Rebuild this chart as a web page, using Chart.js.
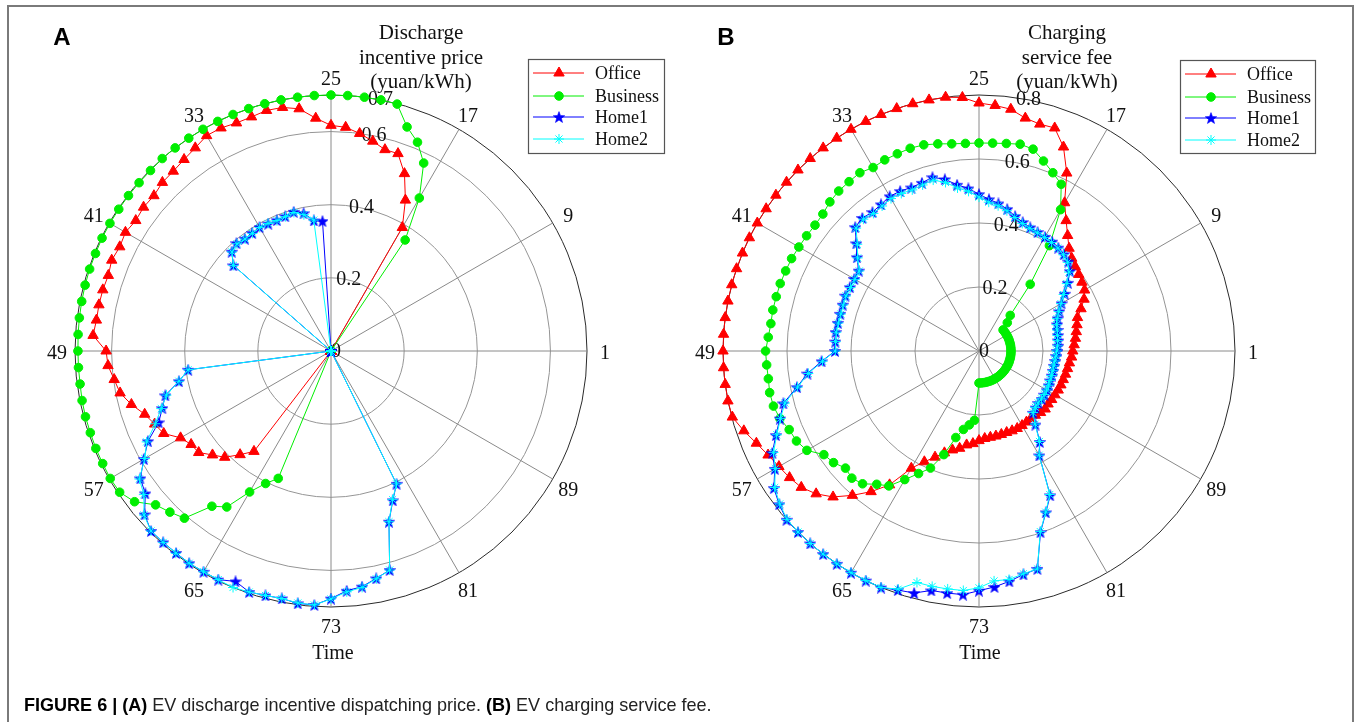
<!DOCTYPE html>
<html>
<head>
<meta charset="utf-8">
<script src="https://cdn.jsdelivr.net/npm/chart.js@4/dist/chart.umd.min.js"></script>
<style>
html,body{margin:0;padding:0;background:#fff;}
#page{position:relative;width:1356px;height:722px;overflow:hidden;background:#fff;}
#frame{position:absolute;left:7px;top:5px;width:1347px;height:760px;border:2px solid #7a7a7a;box-sizing:border-box;}
canvas{position:absolute;top:0;}
.t{position:absolute;font-family:'Liberation Serif','Times New Roman',serif;color:#111;white-space:nowrap;transform:translate(-50%,-50%);line-height:1;}
.ttl{font-size:21px;}
.lbl{font-size:20px;}
.pl{position:absolute;font-family:'Liberation Sans',Arial,sans-serif;font-weight:bold;font-size:24px;color:#000;transform:translate(-50%,-50%);line-height:1;}
#cap{position:absolute;left:24px;top:705px;transform:translateY(-50%);font-family:'Liberation Sans',Arial,sans-serif;font-size:16px;color:#222;white-space:nowrap;line-height:1;}
#cap b{color:#000;}
</style>
</head>
<body>
<div id="page">
  <div id="frame"></div>
  <canvas id="cA" width="680" height="722" style="left:0px;width:680px;height:722px;"></canvas>
  <canvas id="cB" width="676" height="722" style="left:680px;width:676px;height:722px;"></canvas>

  <div class="pl" style="left:62px;top:37px;">A</div>
  <div class="pl" style="left:726px;top:37px;">B</div>

  <div class="t ttl" style="left:421px;top:32px;">Discharge</div>
  <div class="t ttl" style="left:421px;top:57px;">incentive price</div>
  <div class="t ttl" style="left:421px;top:81px;">(yuan/kWh)</div>

  <div class="t ttl" style="left:1067px;top:32px;">Charging</div>
  <div class="t ttl" style="left:1067px;top:57px;">service fee</div>
  <div class="t ttl" style="left:1067px;top:81px;">(yuan/kWh)</div>

  <div class="t lbl" style="left:333px;top:652px;">Time</div>
  <div class="t lbl" style="left:980px;top:652px;">Time</div>

  <div id="cap"><b>FIGURE 6 | (A)</b> EV discharge incentive dispatching price. <b>(B)</b> EV charging service fee.</div>
</div>

<script>
// ---------------- data (time order t = 1 .. 96) ----------------
const times = Array.from({length: 96}, (_, k) => k + 1);
const angleTickLabels = ['1','9','17','25','33','41','49','57','65','73','81','89'];
const seriesNames = ['Office', 'Business', 'Home1', 'Home2'];

const ticksA = [0, 0.2, 0.4, 0.6, 0.7];
const tickLabelsA = ['0', '0.2', '0.4', '0.6', '0.7'];
const ticksB = [0, 0.2, 0.4, 0.6, 0.8];
const tickLabelsB = ['0', '0.2', '0.4', '0.6', '0.8'];

// Panel A : discharge incentive price
const officeA = [
  0,0,0,0,0,0,0,0,0,0,0,0,0,0,0,0,
  0.39,0.46,0.525,0.57,0.57,0.585,0.60,0.613,0.617,0.638,0.668,0.679,0.681,0.676,0.675,0.68,
  0.68,0.668,0.66,0.654,0.652,0.644,0.646,0.642,0.649,0.644,0.649,0.643,0.646,0.647,0.647,0.652,
  0.615,0.611,0.598,0.588,0.565,0.538,0.522,0.51,0.475,0.46,0.456,0.431,0.411,0.377,0.346,0,
  0,0,0,0,0,0,0,0,0,0,0,0,0,0,0,0,
  0,0,0,0,0,0,0,0,0,0,0,0,0,0,0,0
];
const businessA = [
  0,0,0,0,0,0,0,0,0,0,0,0,0,0,0,0.365,
  0.483,0.573,0.618,0.647,0.699,0.70,0.70,0.70,0.70,0.70,0.70,0.70,0.70,0.70,0.70,0.70,
  0.70,0.70,0.70,0.70,0.698,0.698,0.698,0.698,0.698,0.698,0.697,0.697,0.696,0.695,0.694,0.693,
  0.692,0.692,0.692,0.694,0.695,0.695,0.696,0.696,0.697,0.695,0.677,0.638,0.623,0.608,0.535,0.513,
  0.445,0.404,0.377,0,0,0,0,0,0,0,0,0,0,0,0,0,
  0,0,0,0,0,0,0,0,0,0,0,0,0,0,0,0
];
const home1A = [
  0,0,0,0,0,0,0,0,0,0,0,0,0,0,0,0,
  0,0,0,0,0,0,0,0,0,0.356,0.36,0.384,0.394,0.389,0.387,0.388,
  0.391,0.388,0.387,0.392,0.384,0.355,0,0,0,0,0,0,0,0,0,0,
  0,0,0.394,0.424,0.469,0.487,0.51,0.558,0.591,0.627,0.64,0.678,0.696,0.696,0.696,0.698,
  0.697,0.697,0.682,0.696,0.692,0.69,0.696,0.696,0.677,0.657,0.65,0.634,0.62,0.493,0.442,0.405,
  0,0,0,0,0,0,0,0,0,0,0,0,0,0,0,0
];
const home2A = [
  0,0,0,0,0,0,0,0,0,0,0,0,0,0,0,0,
  0,0,0,0,0,0,0,0,0,0,0.361,0.38,0.392,0.388,0.386,0.389,
  0.39,0.387,0.386,0.39,0.383,0.355,0,0,0,0,0,0,0,0,0,0,
  0,0,0.394,0.424,0.466,0.49,0.52,0.562,0.588,0.63,0.645,0.68,0.696,0.696,0.697,0.698,
  0.697,0.697,0.70,0.696,0.692,0.69,0.695,0.696,0.678,0.66,0.652,0.635,0.62,0.493,0.44,0.405,
  0,0,0,0,0,0,0,0,0,0,0,0,0,0,0,0
];

// Panel B : charging service fee
const officeB = [
  0.293,0.298,0.304,0.31,0.317,0.325,0.345,0.366,0.381,0.387,0.393,0.40,0.41,0.427,0.455,0.49,
  0.535,0.62,0.69,0.736,0.734,0.742,0.762,0.769,0.775,0.794,0.80,0.80,0.80,0.80,0.80,0.80,
  0.80,0.80,0.80,0.80,0.80,0.80,0.80,0.80,0.80,0.80,0.80,0.80,0.80,0.80,0.80,0.80,
  0.80,0.80,0.80,0.80,0.798,0.776,0.753,0.735,0.722,0.712,0.70,0.677,0.645,0.60,0.554,0.503,
  0.423,0.386,0.359,0.336,0.32,0.31,0.296,0.29,0.28,0.274,0.272,0.271,0.27,0.269,0.27,0.27,
  0.269,0.267,0.266,0.267,0.272,0.275,0.272,0.273,0.274,0.276,0.277,0.278,0.28,0.282,0.285,0.29
];
const businessB = [
  0.10,0.10,0.10,0.10,0.10,0.10,0.10,0.10,0.10,0.10,0.10,0.10,0.125,0.148,0.263,0.396,
  0.51,0.581,0.603,0.627,0.653,0.659,0.654,0.651,0.65,0.65,0.653,0.66,0.667,0.669,0.667,0.666,
  0.662,0.67,0.667,0.665,0.659,0.649,0.646,0.648,0.65,0.653,0.654,0.656,0.656,0.657,0.656,0.66,
  0.667,0.665,0.664,0.667,0.665,0.657,0.642,0.636,0.621,0.583,0.573,0.555,0.562,0.552,0.525,0.507,
  0.464,0.427,0.396,0.342,0.28,0.25,0.233,0.217,0.10,0.10,0.10,0.10,0.10,0.10,0.10,0.10,
  0.10,0.10,0.10,0.10,0.10,0.10,0.10,0.10,0.10,0.10,0.10,0.10,0.10,0.10,0.10,0.10
];
const home1B = [
  0.245,0.248,0.25,0.252,0.254,0.258,0.266,0.28,0.298,0.322,0.35,0.378,0.395,0.402,0.407,0.411,
  0.412,0.414,0.418,0.425,0.436,0.452,0.465,0.475,0.49,0.509,0.524,0.547,0.562,0.555,0.553,0.557,
  0.558,0.551,0.547,0.553,0.547,0.51,0.481,0.452,0.45,0.45,0.452,0.45,0.449,0.45,0.452,0.45,
  0.45,0.493,0.541,0.58,0.633,0.657,0.687,0.72,0.737,0.771,0.787,0.80,0.80,0.80,0.80,0.80,
  0.80,0.80,0.80,0.789,0.783,0.763,0.763,0.763,0.749,0.739,0.726,0.712,0.705,0.598,0.546,0.503,
  0.377,0.342,0.29,0.257,0.25,0.247,0.247,0.246,0.245,0.243,0.241,0.24,0.24,0.239,0.24,0.242
];
const home2B = [
  0.243,0.246,0.248,0.25,0.253,0.256,0.264,0.278,0.296,0.318,0.346,0.374,0.392,0.40,0.405,0.408,
  0.41,0.412,0.415,0.421,0.432,0.447,0.458,0.466,0.481,0.50,0.514,0.537,0.553,0.548,0.545,0.549,
  0.55,0.545,0.542,0.548,0.543,0.506,0.478,0.45,0.448,0.448,0.45,0.448,0.447,0.448,0.45,0.449,
  0.449,0.49,0.538,0.578,0.628,0.655,0.684,0.716,0.735,0.768,0.785,0.798,0.80,0.80,0.80,0.80,
  0.80,0.80,0.80,0.786,0.749,0.75,0.75,0.75,0.74,0.72,0.72,0.71,0.705,0.596,0.545,0.50,
  0.376,0.34,0.288,0.256,0.249,0.246,0.246,0.245,0.244,0.242,0.24,0.239,0.239,0.238,0.239,0.241
];

// ---------------- helpers ----------------
// radar categories run clockwise; the figure runs counter-clockwise from the right
function toRadar(arr) { const out = [arr[0]]; for (let k = arr.length - 1; k >= 1; k--) out.push(arr[k]); return out; }
const radarLabels = toRadar(times.map(String));

function pentagram(size, color) {
  const c = document.createElement('canvas'); c.width = size; c.height = size;
  const g = c.getContext('2d'); const R = size / 2, r = R * 0.42;
  g.beginPath();
  for (let k = 0; k < 10; k++) {
    const a = -Math.PI / 2 + k * Math.PI / 5, rr = (k % 2) ? r : R;
    g.lineTo(R + rr * Math.cos(a), R + rr * Math.sin(a) + 0.6);
  }
  g.closePath(); g.fillStyle = color; g.fill();
  g.lineWidth = 0.6; g.strokeStyle = color; g.stroke();
  return c;
}
const starImg = pentagram(12, '#0000ff');

const styles = [
  {color: '#ff0000', pointStyle: 'triangle', radius: 6, borderWidth: 1, order: 4},
  {color: '#00ee00', pointStyle: 'circle', radius: 4.3, borderWidth: 1, order: 3},
  {color: '#0000ff', pointStyle: starImg, radius: 5, borderWidth: 1, order: 2},
  {color: '#00ffff', pointStyle: 'star', radius: 5, borderWidth: 1, order: 1}
];

function fallbackPoint(ctx, st, x, y) {
  ctx.save();
  ctx.fillStyle = st.color; ctx.strokeStyle = st.color; ctx.lineWidth = 1;
  if (st.pointStyle === 'triangle') {
    const r = st.radius; ctx.beginPath();
    ctx.moveTo(x, y - r); ctx.lineTo(x + r * 0.866, y + r * 0.5); ctx.lineTo(x - r * 0.866, y + r * 0.5);
    ctx.closePath(); ctx.fill();
  } else if (st.pointStyle === 'circle') {
    ctx.beginPath(); ctx.arc(x, y, st.radius, 0, Math.PI * 2); ctx.fill();
  } else if (st.pointStyle === 'star') {
    const r = st.radius; ctx.beginPath();
    for (let k = 0; k < 4; k++) { const a = k * Math.PI / 4; ctx.moveTo(x - r * Math.cos(a), y - r * Math.sin(a)); ctx.lineTo(x + r * Math.cos(a), y + r * Math.sin(a)); }
    ctx.stroke();
  } else {
    ctx.drawImage(st.pointStyle, x - st.pointStyle.width / 2, y - st.pointStyle.height / 2);
  }
  ctx.restore();
}

const decor = {
  id: 'decor',
  beforeDatasetsDraw(chart, args, o) {
    const s = chart.scales.r, ctx = chart.ctx;
    ctx.save();
    ctx.font = '20px "Liberation Serif", "Times New Roman", serif';
    ctx.fillStyle = '#111'; ctx.textAlign = 'center'; ctx.textBaseline = 'middle';
    const a = 80 * Math.PI / 180;
    o.ticks.forEach((v, k) => {
      const d = s.getDistanceFromCenterForValue(v);
      ctx.fillText(o.tickLabels[k], s.xCenter + d * Math.cos(a) + 5, s.yCenter - d * Math.sin(a) + 1);
    });
    chart.data.labels.forEach((lab, i) => {
      if (angleTickLabels.includes(lab)) {
        const p = s.getPointPosition(i, s.drawingArea + 18);
        ctx.fillText(lab, p.x, p.y + 3);
      }
    });
    ctx.restore();
  },
  afterDraw(chart, args, o) {
    const ctx = chart.ctx, b = o.box;
    ctx.save();
    ctx.fillStyle = '#fff'; ctx.fillRect(b.x, b.y, b.w, b.h);
    ctx.strokeStyle = '#555'; ctx.lineWidth = 1.2; ctx.strokeRect(b.x + 0.5, b.y + 0.5, b.w, b.h);
    const rows = [14, 37, 58, 80];
    ctx.font = '18px "Liberation Serif", "Times New Roman", serif';
    ctx.textAlign = 'left'; ctx.textBaseline = 'middle';
    seriesNames.forEach((name, k) => {
      const st = styles[k], y = b.y + rows[k];
      ctx.strokeStyle = st.color; ctx.lineWidth = 1;
      ctx.beginPath(); ctx.moveTo(b.x + 5, y); ctx.lineTo(b.x + 56, y); ctx.stroke();
      const H = Chart.helpers;
      if (H && H.drawPoint) {
        ctx.fillStyle = st.color; ctx.strokeStyle = st.color; ctx.lineWidth = st.borderWidth;
        H.drawPoint(ctx, {pointStyle: st.pointStyle, radius: st.radius, borderWidth: st.borderWidth, rotation: 0}, b.x + 31, y);
      } else {
        fallbackPoint(ctx, st, b.x + 31, y);
      }
      ctx.fillStyle = '#111';
      ctx.fillText(name, b.x + 67, y + 1);
    });
    ctx.restore();
  }
};

function makeChart(id, series, cfg) {
  return new Chart(document.getElementById(id), {
    type: 'radar',
    data: {
      labels: radarLabels,
      datasets: series.map((arr, k) => ({
        label: seriesNames[k],
        data: toRadar(arr),
        borderColor: styles[k].color,
        backgroundColor: styles[k].color,
        pointBackgroundColor: styles[k].color,
        pointBorderColor: styles[k].color,
        pointStyle: styles[k].pointStyle,
        pointRadius: styles[k].radius,
        pointBorderWidth: styles[k].borderWidth,
        borderWidth: 1,
        fill: false,
        tension: 0,
        order: styles[k].order
      }))
    },
    options: {
      responsive: false,
      animation: false,
      events: [],
      layout: {padding: cfg.padding},
      plugins: {
        legend: {display: false},
        tooltip: {enabled: false},
        decor: {ticks: cfg.ticks, tickLabels: cfg.tickLabels, box: cfg.box}
      },
      scales: {
        r: {
          min: 0,
          max: cfg.ticks[cfg.ticks.length - 1],
          startAngle: 90,
          afterBuildTicks: (sc) => { sc.ticks = cfg.ticks.map(v => ({value: v})); },
          ticks: {display: false},
          pointLabels: {display: false},
          grid: {
            circular: true,
            color: (c) => (c.index === cfg.ticks.length - 1 ? '#2a2a2a' : '#959595'),
            lineWidth: 1
          },
          angleLines: {
            display: true,
            color: (c) => (c.index % 8 === 0 ? '#8a8a8a' : 'rgba(0,0,0,0)'),
            lineWidth: (c) => (c.index % 8 === 0 ? 1 : 0)
          }
        }
      }
    },
    plugins: [decor]
  });
}

makeChart('cA', [officeA, businessA, home1A, home2A], {
  ticks: ticksA, tickLabels: tickLabelsA,
  padding: {left: 75, top: 95, right: 92, bottom: 114},
  box: {x: 528, y: 59, w: 136, h: 94}
});
makeChart('cB', [officeB, businessB, home1B, home2B], {
  ticks: ticksB, tickLabels: tickLabelsB,
  padding: {left: 43, top: 95, right: 120, bottom: 114},
  box: {x: 500, y: 60, w: 135, h: 93}
});

// fit caption to the reference width
(function () {
  const cap = document.getElementById('cap');
  const target = 688;
  const w = cap.getBoundingClientRect().width;
  if (w > 0) cap.style.fontSize = (16 * target / w).toFixed(2) + 'px';
})();
</script>
</body>
</html>
